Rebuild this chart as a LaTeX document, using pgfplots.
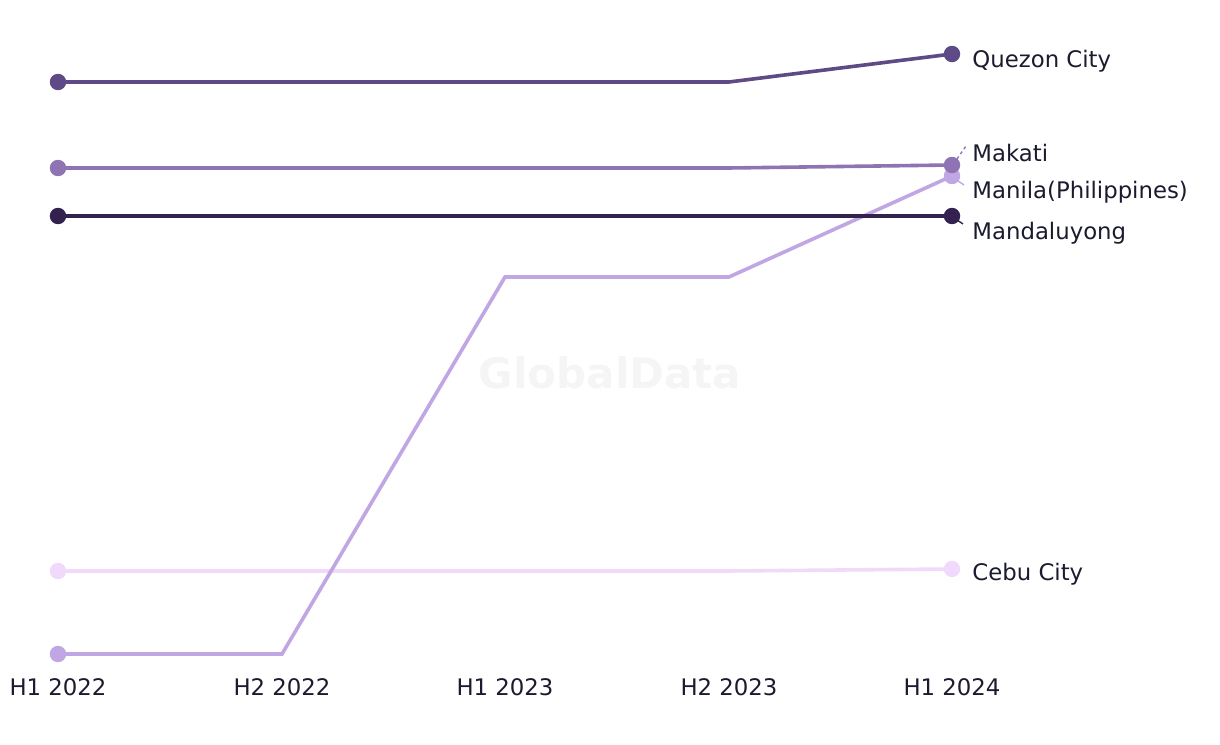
\documentclass[border=0pt]{standalone}
\usepackage{pgfplots}
\pgfplotsset{compat=1.18}
\usepackage{fontspec}
\setmainfont{DejaVu Sans}
\definecolor{cQ}{HTML}{5E4A86}
\definecolor{cMk}{HTML}{8E74B2}
\definecolor{cMd}{HTML}{33214F}
\definecolor{cMn}{HTML}{C0A6E2}
\definecolor{cC}{HTML}{F0D9FA}
\definecolor{txt}{HTML}{1B1B2F}
\begin{document}
\begin{tikzpicture}
\begin{axis}[
  scale only axis, width=610pt, height=372pt,
  xmin=0, xmax=1220, ymin=-744, ymax=0,
  clip=false,
  axis line style={draw=none},
  tick style={draw=none},
  ytick=\empty,
  xtick={58,282,505,729,952},
  xticklabels={H1 2022,H2 2022,H1 2023,H2 2023,H1 2024},
  xticklabel style={font=\fontsize{11.4}{13}\selectfont, text=txt, yshift=36pt},
  every axis plot/.append style={line width=1.8pt, mark=*, mark size=3.2pt},
]
\path (rel axis cs:0,0) rectangle (rel axis cs:1,1);
\node[text=black!4, font=\bfseries\fontsize{21}{24}\selectfont] at (axis cs:610,-373) {GlobalData};
% Cebu City
\addplot[color=cC, mark indices={1,5}] coordinates {(58,-571) (282,-571) (505,-571) (729,-571) (952,-569)};
% Manila
\addplot[color=cMn, mark indices={1,5}] coordinates {(58,-654) (282,-654) (505,-277) (729,-277) (952,-176)};
% Mandaluyong
\addplot[color=cMd, mark indices={1,5}] coordinates {(58,-216) (282,-216) (505,-216) (729,-216) (952,-216)};
% Makati
\addplot[color=cMk, mark indices={1,5}] coordinates {(58,-168) (282,-168) (505,-168) (729,-168) (952,-165)};
% Quezon City
\addplot[color=cQ, mark indices={1,5}] coordinates {(58,-82) (282,-82) (505,-82) (729,-82) (952,-54)};
% leader lines
\draw[cMk, line width=0.7pt, dash pattern=on 1.5pt off 1.5pt] (axis cs:957,-159) -- (axis cs:966,-146);
\draw[cMn, line width=0.7pt] (axis cs:958,-181) -- (axis cs:964,-185);
\draw[cMd, line width=0.7pt] (axis cs:957,-220) -- (axis cs:963,-224);
\begin{scope}[every node/.style={anchor=west, text=txt, font=\fontsize{11.4}{13}\selectfont, inner sep=0pt}]
\node at (axis cs:972,-61) {Quezon City};
\node at (axis cs:972,-153) {Makati};
\node at (axis cs:972,-192) {Manila(Philippines)};
\node at (axis cs:972,-233) {Mandaluyong};
\node at (axis cs:972,-574) {Cebu City};
\end{scope}
\end{axis}
\end{tikzpicture}
\end{document}
